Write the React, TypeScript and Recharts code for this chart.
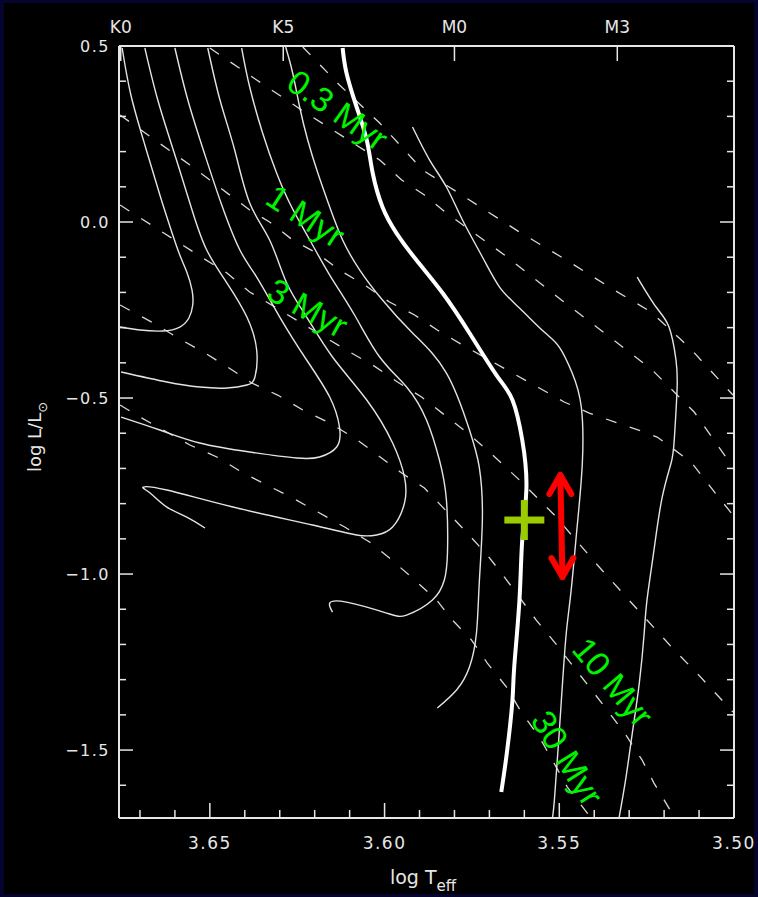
import React from "react";
import { ComposedChart, Line, Scatter, XAxis, YAxis } from "recharts";

// pre-main-sequence evolutionary tracks, [log Teff, log L/Lsun]
const track1 = [[3.6751, 0.4943], [3.6726, 0.3608], [3.6686, 0.2188], [3.6643, 0.0767], [3.6609, -0.0284], [3.6586, -0.0938], [3.6566, -0.142], [3.6551, -0.1932], [3.6549, -0.2358], [3.656, -0.2727], [3.6586, -0.2983], [3.6634, -0.3097], [3.67, -0.3068], [3.6757, -0.2983]];
const track2 = [[3.6686, 0.4943], [3.6649, 0.3466], [3.66, 0.1903], [3.6551, 0.0341], [3.6509, -0.0796], [3.6451, -0.1733], [3.6394, -0.2699], [3.6366, -0.3636], [3.6371, -0.4403], [3.6394, -0.4631], [3.6451, -0.4716], [3.6529, -0.4688], [3.6623, -0.4545], [3.6754, -0.4261]];
const track3 = [[3.66, 0.4943], [3.6563, 0.3466], [3.6514, 0.1903], [3.6466, 0.0483], [3.6414, -0.0796], [3.6366, -0.1563], [3.63, -0.2699], [3.6223, -0.392], [3.6157, -0.4972], [3.6129, -0.5824], [3.6137, -0.6392], [3.6186, -0.6676], [3.6251, -0.6705], [3.6386, -0.6534], [3.6529, -0.6278], [3.6643, -0.5909], [3.6754, -0.554]];
const track4 = [[3.6506, 0.4943], [3.6471, 0.3466], [3.6429, 0.2045], [3.6386, 0.054], [3.6329, -0.0511], [3.628, -0.1733], [3.6223, -0.2699], [3.6149, -0.3835], [3.6051, -0.5057], [3.5977, -0.6278], [3.5943, -0.7244], [3.5943, -0.7983], [3.5977, -0.8665], [3.6023, -0.8892], [3.608, -0.8892], [3.6206, -0.8608], [3.6434, -0.8097], [3.6623, -0.7614], [3.6691, -0.7528], [3.6671, -0.7699], [3.6623, -0.8097], [3.6566, -0.8381], [3.6514, -0.8693]];
const track5 = [[3.6409, 0.4943], [3.6386, 0.3835], [3.6349, 0.2528], [3.6309, 0.1392], [3.6266, 0.0426], [3.6214, -0.0511], [3.6157, -0.1506], [3.6086, -0.2642], [3.6014, -0.3835], [3.5937, -0.4688], [3.588, -0.5625], [3.5843, -0.6761], [3.5823, -0.7898], [3.582, -0.9403], [3.5829, -1.017], [3.5863, -1.0739], [3.5937, -1.1165], [3.5994, -1.1108], [3.6109, -1.0796], [3.6157, -1.0824], [3.6149, -1.108]];
const track6 = [[3.6283, 0.4972], [3.6263, 0.4233], [3.6243, 0.3267], [3.622, 0.233], [3.6191, 0.1392], [3.6157, 0.0426], [3.612, -0.0511], [3.6071, -0.1364], [3.6006, -0.2216], [3.592, -0.3153], [3.5823, -0.429], [3.5757, -0.5909], [3.5729, -0.696], [3.572, -0.8381], [3.5729, -1.0256], [3.5737, -1.1676], [3.5757, -1.2642], [3.5794, -1.3295], [3.5849, -1.3807]];
const trackBold = [[3.612, 0.4943], [3.6109, 0.4233], [3.608, 0.3267], [3.6051, 0.233], [3.6034, 0.1392], [3.6006, 0.0426], [3.5966, -0.0313], [3.5909, -0.108], [3.5834, -0.2017], [3.5757, -0.3153], [3.568, -0.4347], [3.5634, -0.5057], [3.5606, -0.6193], [3.5594, -0.7528], [3.5606, -0.9034], [3.5614, -1.0739], [3.5629, -1.2642], [3.5634, -1.358], [3.5649, -1.5], [3.5666, -1.6193]];
const track8 = [[3.592, 0.2699], [3.5871, 0.1761], [3.5823, 0.0994], [3.5777, 0.0057], [3.572, -0.0994], [3.5671, -0.1847], [3.5614, -0.2443], [3.5543, -0.3125], [3.55, -0.3551], [3.5463, -0.429], [3.5437, -0.5256], [3.5434, -0.6847], [3.5449, -0.8665], [3.5466, -1.0455], [3.548, -1.1676], [3.5494, -1.358], [3.5514, -1.642], [3.5523, -1.6932]];
const track9 = [[3.5277, -0.1563], [3.5223, -0.2415], [3.5186, -0.2983], [3.5166, -0.392], [3.5163, -0.4773], [3.5171, -0.6193], [3.518, -0.6847], [3.5206, -0.7841], [3.5229, -0.9318], [3.5249, -1.0739], [3.5257, -1.1676], [3.5271, -1.3097], [3.5291, -1.4517], [3.5309, -1.5767], [3.5329, -1.6932]];

// isochrones
const iso01 = [[3.6234, 0.4972], [3.6129, 0.3892], [3.6014, 0.2812], [3.5951, 0.2131], [3.5891, 0.1477], [3.5757, 0.0625], [3.5614, -0.0284], [3.548, -0.108], [3.5343, -0.1932], [3.5237, -0.2557], [3.5129, -0.3551], [3.5003, -0.4915]];
const iso03 = [[3.65, 0.4943], [3.6366, 0.4034], [3.6229, 0.3125], [3.6157, 0.267], [3.6014, 0.1761], [3.5951, 0.1193], [3.5886, 0.0767], [3.5823, 0.0256], [3.5657, -0.0938], [3.5494, -0.2216], [3.5363, -0.321], [3.5234, -0.4205], [3.5114, -0.5398], [3.5003, -0.696]];
const iso1 = [[3.6757, 0.304], [3.6557, 0.1619], [3.6386, 0.0341], [3.6329, 0.0], [3.6263, -0.0511], [3.6194, -0.0881], [3.6129, -0.1364], [3.6057, -0.179], [3.5986, -0.2273], [3.5914, -0.2642], [3.5849, -0.3068], [3.5777, -0.3494], [3.57, -0.392], [3.5634, -0.429], [3.5557, -0.4716], [3.5486, -0.5114], [3.5414, -0.5426], [3.5334, -0.571], [3.5257, -0.5966], [3.522, -0.6108], [3.5123, -0.6818], [3.5049, -0.7756], [3.5003, -0.8324]];
const iso3 = [[3.6757, 0.0483], [3.652, -0.1023], [3.6451, -0.1449], [3.6386, -0.1989], [3.6309, -0.2443], [3.6243, -0.2841], [3.61, -0.3693], [3.6034, -0.4062], [3.5963, -0.4545], [3.5894, -0.4972], [3.5766, -0.5966], [3.57, -0.6534], [3.5614, -0.733], [3.5514, -0.8324], [3.5391, -0.9744], [3.528, -1.0966], [3.5171, -1.2159], [3.5109, -1.2784], [3.5003, -1.392]];
const iso10 = [[3.6757, -0.2358], [3.6651, -0.2926], [3.6591, -0.3295], [3.6514, -0.3722], [3.6449, -0.4119], [3.638, -0.4574], [3.6306, -0.4915], [3.6234, -0.5341], [3.6157, -0.571], [3.6086, -0.6136], [3.602, -0.6619], [3.5951, -0.7131], [3.5886, -0.7557], [3.5766, -0.8807], [3.5706, -0.946], [3.5657, -1.0085], [3.5566, -1.1307], [3.5514, -1.1932], [3.5463, -1.2585], [3.5414, -1.321], [3.5363, -1.3864], [3.5309, -1.4574], [3.5263, -1.5284], [3.5229, -1.5938], [3.5169, -1.6932]];
const iso30 = [[3.6757, -0.5199], [3.67, -0.554], [3.6634, -0.5909], [3.6557, -0.6335], [3.648, -0.6676], [3.6409, -0.7102], [3.6337, -0.7472], [3.6263, -0.7841], [3.6191, -0.8239], [3.6114, -0.8665], [3.6043, -0.9091], [3.5986, -0.9545], [3.592, -1.0114], [3.5851, -1.0739], [3.5806, -1.1307], [3.5751, -1.1875], [3.5706, -1.2528], [3.5651, -1.321], [3.5609, -1.392], [3.5557, -1.4631], [3.552, -1.5284], [3.5477, -1.6051], [3.5409, -1.6932]];

// isochrone labels
const isoLabelText = ["0.3 Myr", "1 Myr", "3 Myr", "10 Myr", "30 Myr"];
const isoLabelT = [3.6134, 3.6226, 3.622, 3.5346, 3.5477];
const isoLabelL = [0.3182, 0.017, -0.2443, -1.3068, -1.5227];

// the star and its luminosity range
const starT = [3.56];
const starL = [-0.8466];
const rangeT = [3.5497, 3.5491];
const rangeL = [-0.7188, -1.0085];

// axes
const xTicks = [3.67, 3.66, 3.65, 3.64, 3.63, 3.62, 3.61, 3.6, 3.59, 3.58, 3.57, 3.56, 3.55, 3.54, 3.53, 3.52, 3.51, 3.5];
const xMajor = [3.65, 3.6, 3.55, 3.5];
const yTicks = [0.5, 0.4, 0.3, 0.2, 0.1, 0.0, -0.1, -0.2, -0.3, -0.4, -0.5, -0.6, -0.7, -0.8, -0.9, -1.0, -1.1, -1.2, -1.3, -1.4, -1.5, -1.6];
const yMajor = [0.5, 0.0, -0.5, -1.0, -1.5];
const spType = ["K0", "K5", "M0", "M3"];
const spTeff = [3.6755, 3.629, 3.58, 3.5334];

const W = 758;
const H = 897;
const AX = "#e6e6e6";
const FONT = "'DejaVu Sans', sans-serif";
const labelAngle = [35, 33, 29, 50, 58];

const pts = (a: number[][]) => a.map(([x, y]) => ({ x, y }));
const isMajor = (list: number[], v: number) => list.some((m) => Math.abs(m - v) < 1e-6);
const fmtY = (v: number) => (Math.abs(v) < 1e-9 ? "0.0" : v < 0 ? "\u2212" + Math.abs(v).toFixed(1) : v.toFixed(1));

const BottomTick = (p: any) => {
  const v = p.payload.value;
  const major = isMajor(xMajor, v);
  return (
    <g>
      <line x1={p.x} x2={p.x} y1={p.y} y2={p.y - (major ? 15 : 8)} stroke={AX} strokeWidth={1.5} />
      {major && (
        <text x={p.x} y={p.y + 31} textAnchor="middle" fill={AX} fontSize={17} fontFamily={FONT} letterSpacing={1.5}>
          {v.toFixed(2)}
        </text>
      )}
    </g>
  );
};

const TopTick = (p: any) => (
  <g>
    <line x1={p.x} x2={p.x} y1={p.y} y2={p.y + 15} stroke={AX} strokeWidth={1.5} />
    <text x={p.x} y={p.y - 13} textAnchor="middle" fill={AX} fontSize={17} fontFamily={FONT}>
      {spType[p.index]}
    </text>
  </g>
);

const LeftTick = (p: any) => {
  const v = p.payload.value;
  const major = isMajor(yMajor, v);
  return (
    <g>
      <line x1={p.x} x2={p.x + (major ? 14 : 7)} y1={p.y} y2={p.y} stroke={AX} strokeWidth={1.5} />
      {major && (
        <text x={p.x - 9} y={p.y} dy="0.36em" textAnchor="end" fill={AX} fontSize={16} fontFamily={FONT} letterSpacing={1.5}>
          {fmtY(v)}
        </text>
      )}
    </g>
  );
};

const RightTick = (p: any) => {
  const major = isMajor(yMajor, p.payload.value);
  return <line x1={p.x} x2={p.x - (major ? 14 : 7)} y1={p.y} y2={p.y} stroke={AX} strokeWidth={1.5} />;
};

const Arrowhead = (p: any) => {
  const dir = p.index === 0 ? 1 : -1;
  return (
    <polyline
      key={`ah-${p.index}`}
      points={`${p.cx - 11},${p.cy + dir * 19} ${p.cx},${p.cy} ${p.cx + 11},${p.cy + dir * 19}`}
      fill="none"
      stroke="#ff0000"
      strokeWidth={6}
      strokeLinecap="round"
      strokeLinejoin="round"
    />
  );
};

const Cross = (p: any) => (
  <g>
    <rect x={p.cx - 20} y={p.cy - 3.5} width={40} height={7} fill="#9acc00" />
    <rect x={p.cx - 3.5} y={p.cy - 20} width={7} height={40} fill="#9acc00" />
  </g>
);

const IsoLabel = (p: any) => (
  <text
    x={p.cx}
    y={p.cy}
    dy="0.35em"
    textAnchor="middle"
    transform={`rotate(${labelAngle[p.payload.i]} ${p.cx} ${p.cy})`}
    fill="#00f400"
    fontSize={34}
    fontFamily="'Liberation Sans', Arial, sans-serif"
  >
    {p.payload.t}
  </text>
);

export default function App() {
  const thin = [track1, track2, track3, track4, track5, track6, track8, track9];
  const isos = [iso01, iso03, iso1, iso3, iso10, iso30];
  const labels = isoLabelText.map((t, i) => ({ x: isoLabelT[i], y: isoLabelL[i], t, i }));
  const star = starT.map((x, i) => ({ x, y: starL[i] }));
  const range = rangeT.map((x, i) => ({ x, y: rangeL[i] }));

  return (
    <div style={{ position: "absolute", left: 0, top: 0, width: W, height: H, background: "#04042e" }}>
      <div style={{ position: "absolute", left: 4, top: 3, width: W - 8, height: H - 6, background: "#000" }} />
      <div style={{ position: "absolute", left: 0, top: 0 }}>
        <ComposedChart width={W} height={H} margin={{ top: 0, right: 0, bottom: 0, left: 0 }}>
          <XAxis
            dataKey="x"
            type="number"
            domain={[3.5, 3.676]}
            reversed
            allowDataOverflow
            ticks={xTicks}
            interval={0}
            height={79}
            tickSize={0}
            tickMargin={0}
            tickLine={false}
            axisLine={{ stroke: AX, strokeWidth: 2 }}
            tick={BottomTick}
            label={{
              content: () => (
                <text x={423} y={884} textAnchor="middle" fill={AX} fontSize={19} fontFamily={FONT}>
                  log T<tspan dy={7} fontSize={15}>eff</tspan>
                </text>
              ),
            }}
          />
          <XAxis
            xAxisId="top"
            orientation="top"
            dataKey="x"
            type="number"
            domain={[3.5, 3.676]}
            reversed
            allowDataOverflow
            ticks={spTeff}
            interval={0}
            height={46}
            tickSize={0}
            tickMargin={0}
            tickLine={false}
            axisLine={{ stroke: AX, strokeWidth: 2 }}
            tick={TopTick}
          />
          <YAxis
            type="number"
            domain={[-1.693, 0.5]}
            allowDataOverflow
            ticks={yTicks}
            interval={0}
            width={119}
            tickSize={0}
            tickMargin={0}
            tickLine={false}
            axisLine={{ stroke: AX, strokeWidth: 2 }}
            tick={LeftTick}
            label={{
              content: () => (
                <text x={41} y={437} transform="rotate(-90 41 437)" textAnchor="middle" fill={AX} fontSize={18} fontFamily={FONT}>
                  log L/L<tspan dy={6} fontSize={13}>{"\u2299"}</tspan>
                </text>
              ),
            }}
          />
          <YAxis
            yAxisId="right"
            orientation="right"
            type="number"
            domain={[-1.693, 0.5]}
            allowDataOverflow
            ticks={yTicks}
            interval={0}
            width={24}
            tickSize={0}
            tickMargin={0}
            tickLine={false}
            axisLine={{ stroke: AX, strokeWidth: 2 }}
            tick={RightTick}
          />
          {isos.map((d, i) => (
            <Line
              key={`iso-${i}`}
              data={pts(d)}
              dataKey="y"
              type="linear"
              stroke="#d8d8d8"
              strokeWidth={1.3}
              strokeDasharray="11 14"
              dot={false}
              activeDot={false}
              isAnimationActive={false}
            />
          ))}
          {thin.map((d, i) => (
            <Line
              key={`trk-${i}`}
              data={pts(d)}
              dataKey="y"
              type="natural"
              stroke="#e4e4e4"
              strokeWidth={1.4}
              dot={false}
              activeDot={false}
              isAnimationActive={false}
            />
          ))}
          <Line
            data={pts(trackBold)}
            dataKey="y"
            type="natural"
            stroke="#ffffff"
            strokeWidth={4}
            dot={false}
            activeDot={false}
            isAnimationActive={false}
          />
          <Line
            data={range}
            dataKey="y"
            type="linear"
            stroke="#ff0000"
            strokeWidth={6}
            strokeLinecap="round"
            dot={Arrowhead}
            activeDot={false}
            isAnimationActive={false}
          />
          <Scatter data={star} dataKey="y" shape={Cross} isAnimationActive={false} />
          <Scatter data={labels} dataKey="y" shape={IsoLabel} isAnimationActive={false} />
        </ComposedChart>
      </div>
    </div>
  );
}
